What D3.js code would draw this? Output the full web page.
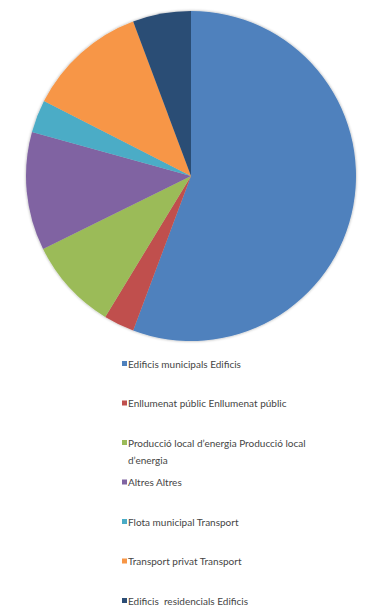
<!DOCTYPE html>
<html>
<head>
<meta charset="utf-8">
<script src="https://cdn.jsdelivr.net/npm/d3@7"></script>
<style>
  html, body { margin: 0; padding: 0; background: #fff; }
  svg { display: block; }
</style>
</head>
<body>
<div id="chart"></div>
<script>
// Data (share of total, %)
var categories = [
    'Edificis municipals Edificis',
    'Enllumenat públic Enllumenat públic',
    'Producció local d\u2019energia Producció local d\u2019energia',
    'Altres Altres',
    'Flota municipal Transport',
    'Transport privat Transport',
    'Edificis  residencials Edificis'
];
var values = [55.7, 3.0, 9.0, 11.6, 3.2, 11.8, 5.7];
var colors = ['#4f81bd', '#c0504d', '#9bbb59', '#8064a2', '#4bacc6', '#f79646', '#2c4d75'];

var W = 365, H = 608;
var cx = 191, cy = 176, R = 165;

var svg = d3.select('#chart').append('svg')
    .attr('width', W)
    .attr('height', H);

// soft halo round the pie, like the original
var defs = svg.append('defs');
var f = defs.append('filter').attr('id', 'halo')
    .attr('x', '-10%').attr('y', '-10%').attr('width', '120%').attr('height', '120%');
f.append('feGaussianBlur').attr('in', 'SourceAlpha').attr('stdDeviation', 1.5).attr('result', 'b');
f.append('feComponentTransfer').attr('in', 'b').attr('result', 'c')
    .append('feFuncA').attr('type', 'linear').attr('slope', 0.35);
var fm = f.append('feMerge');
fm.append('feMergeNode').attr('in', 'c');
fm.append('feMergeNode').attr('in', 'SourceGraphic');

var pie = d3.pie().sort(null).value(function(d) { return d; });
var arc = d3.arc().innerRadius(0).outerRadius(R);

var g = svg.append('g')
    .attr('transform', 'translate(' + cx + ',' + cy + ')')
    .attr('filter', 'url(#halo)');

g.selectAll('path')
    .data(pie(values))
    .enter().append('path')
    .attr('d', arc)
    .attr('fill', function(d, i) { return colors[i]; });

// Legend
var legY = d3.scalePoint()
    .domain(d3.range(categories.length))
    .range([364, 601]);

var maxW = 205;
var leg = svg.append('g')
    .attr('font-family', 'Lato, "Open Sans", sans-serif')
    .attr('font-size', '10px')
    .attr('fill', '#454545');

categories.forEach(function(name, i) {
    var y = legY(i);
    leg.append('rect')
        .attr('x', 122).attr('y', y - 3)
        .attr('width', 5).attr('height', 5)
        .attr('fill', colors[i]);

    var t = leg.append('text')
        .attr('x', 128).attr('y', y + 3.5)
        .attr('xml:space', 'preserve');

    // wrap long labels
    var words = name.split(' ');
    var line = [];
    var ts = t.append('tspan').attr('x', 128).attr('dy', 0);
    words.forEach(function(w) {
        line.push(w);
        ts.text(line.join(' '));
        if (ts.node().getComputedTextLength() > maxW && line.length > 1) {
            line.pop();
            ts.text(line.join(' '));
            line = [w];
            ts = t.append('tspan').attr('x', 128).attr('dy', 17).text(w);
        }
    });
});
</script>
</body>
</html>
